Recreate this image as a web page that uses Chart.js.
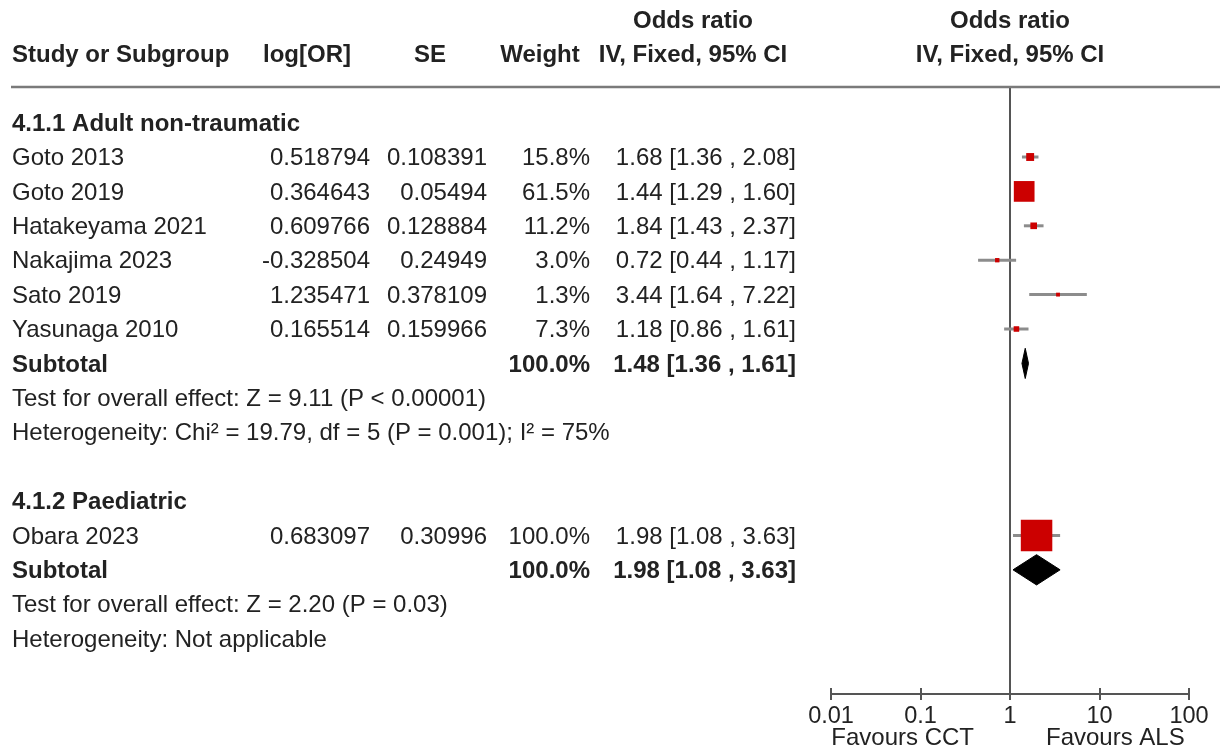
<!DOCTYPE html>
<html>
<head>
<meta charset="utf-8">
<title>Forest plot - ALS vs CCT</title>
<script src="https://cdn.jsdelivr.net/npm/chart.js@4.4.1/dist/chart.umd.min.js"></script>
<style>
    html, body { margin: 0; padding: 0; background: #fff; }
    canvas { display: block; }
</style>
</head>
<body>
<canvas id="forestChart" width="1220" height="753"></canvas>
<script>
// data
const groups = ["4.1.1 Adult non-traumatic", "4.1.2 Paediatric"];
const studies = ["Goto 2013", "Goto 2019", "Hatakeyama 2021", "Nakajima 2023", "Sato 2019", "Yasunaga 2010", "Obara 2023"];
const studyGroup = [0, 0, 0, 0, 0, 0, 1];
const logOR = [0.518794, 0.364643, 0.609766, -0.328504, 1.235471, 0.165514, 0.683097];
const stdErr = [0.108391, 0.05494, 0.128884, 0.24949, 0.378109, 0.159966, 0.30996];
const weight = [15.8, 61.5, 11.2, 3.0, 1.3, 7.3, 100.0];
const oddsRatio = [1.68, 1.44, 1.84, 0.72, 3.44, 1.18, 1.98];
const ciLower = [1.36, 1.29, 1.43, 0.44, 1.64, 0.86, 1.08];
const ciUpper = [2.08, 1.60, 2.37, 1.17, 7.22, 1.61, 3.63];

const subtotalWeight = [100.0, 100.0];
const subtotalOR = [1.48, 1.98];
const subtotalLower = [1.36, 1.08];
const subtotalUpper = [1.61, 3.63];
const overallTests = [
    "Test for overall effect: Z = 9.11 (P < 0.00001)",
    "Test for overall effect: Z = 2.20 (P = 0.03)"
];
const heterogeneity = [
    "Heterogeneity: Chi\u00b2 = 19.79, df = 5 (P = 0.001); I\u00b2 = 75%",
    "Heterogeneity: Not applicable"
];

const xTicks = [0.01, 0.1, 1, 10, 100];
const favoursLeft = "Favours CCT";
const favoursRight = "Favours ALS";

// row layout: heading, studies, subtotal, test, heterogeneity, blank
const rows = [];
let r = 0;
groups.forEach((g, gi) => {
    rows.push({kind: "heading", g: gi, row: r++});
    studies.forEach((s, i) => {
        if (studyGroup[i] === gi) rows.push({kind: "study", i: i, row: r++});
    });
    rows.push({kind: "subtotal", g: gi, row: r++});
    rows.push({kind: "test", g: gi, row: r++});
    rows.push({kind: "het", g: gi, row: r++});
    r++;
});
const studyRow = i => rows.find(o => o.kind === "study" && o.i === i).row;
const subtotalRow = g => rows.find(o => o.kind === "subtotal" && o.g === g).row;

const FONT = '"Liberation Sans", Arial, Helvetica, sans-serif';
const TEXT = "#222";
const DIAMOND_HALF = 0.44;

const datasets = [];

// squares
datasets.push({
    data: studies.map((s, i) => ({x: oddsRatio[i], y: studyRow(i)})),
    pointStyle: "rect",
    pointRadius: weight.map(w => (3.5 + 0.28 * w) / Math.SQRT2),
    backgroundColor: "#cc0000",
    borderWidth: 0,
    order: 0
});

// confidence intervals
studies.forEach((s, i) => {
    datasets.push({
        data: [{x: ciLower[i], y: studyRow(i)}, {x: ciUpper[i], y: studyRow(i)}],
        showLine: true,
        borderColor: "#8c8c8c",
        borderWidth: 3,
        pointRadius: 0,
        order: 1
    });
});

// subtotal diamonds
groups.forEach((g, gi) => {
    const y = subtotalRow(gi);
    datasets.push({
        data: [
            {x: subtotalLower[gi], y: y},
            {x: subtotalOR[gi], y: y - DIAMOND_HALF},
            {x: subtotalUpper[gi], y: y},
            {x: subtotalOR[gi], y: y + DIAMOND_HALF},
            {x: subtotalLower[gi], y: y}
        ],
        showLine: true,
        fill: "shape",
        backgroundColor: "#000",
        borderColor: "#000",
        borderWidth: 1,
        pointRadius: 0,
        order: 0
    });
});

// line of no effect
datasets.push({
    data: [{x: 1, y: -2}, {x: 1, y: r + 2}],
    showLine: true,
    borderColor: "#555",
    borderWidth: 2,
    pointRadius: 0,
    order: 2
});

const tablePlugin = {
    id: "forestTable",
    afterDraw(chart) {
        const ctx = chart.ctx;
        const ys = chart.scales.y;
        const xs = chart.scales.x;
        const area = chart.chartArea;
        const py = row => ys.getPixelForValue(row) + 1.5;

        ctx.save();
        ctx.textBaseline = "middle";
        ctx.fillStyle = TEXT;

        const put = (str, x, y, align, bold) => {
            ctx.font = (bold ? "bold " : "") + "24px " + FONT;
            ctx.textAlign = align;
            ctx.fillText(str, x, y);
        };

        // header
        put("Odds ratio", 693, py(-3), "center", true);
        put("Odds ratio", xs.getPixelForValue(1), py(-3), "center", true);
        put("Study or Subgroup", 12, py(-2), "left", true);
        put("log[OR]", 307, py(-2), "center", true);
        put("SE", 430, py(-2), "center", true);
        put("Weight", 540, py(-2), "center", true);
        put("IV, Fixed, 95% CI", 693, py(-2), "center", true);
        put("IV, Fixed, 95% CI", xs.getPixelForValue(1), py(-2), "center", true);

        ctx.strokeStyle = "#7a7a7a";
        ctx.lineWidth = 2.5;
        ctx.beginPath();
        ctx.moveTo(11, area.top);
        ctx.lineTo(chart.width, area.top);
        ctx.stroke();

        const ci = (o, l, u) => o.toFixed(2) + " [" + l.toFixed(2) + " , " + u.toFixed(2) + "]";

        rows.forEach(o => {
            const y = py(o.row);
            if (o.kind === "heading") {
                put(groups[o.g], 12, y, "left", true);
            } else if (o.kind === "study") {
                const i = o.i;
                put(studies[i], 12, y, "left", false);
                put(String(logOR[i]), 370, y, "right", false);
                put(String(stdErr[i]), 487, y, "right", false);
                put(weight[i].toFixed(1) + "%", 590, y, "right", false);
                put(ci(oddsRatio[i], ciLower[i], ciUpper[i]), 796, y, "right", false);
            } else if (o.kind === "subtotal") {
                put("Subtotal", 12, y, "left", true);
                put(subtotalWeight[o.g].toFixed(1) + "%", 590, y, "right", true);
                put(ci(subtotalOR[o.g], subtotalLower[o.g], subtotalUpper[o.g]), 796, y, "right", true);
            } else if (o.kind === "test") {
                put(overallTests[o.g], 12, y, "left", false);
            } else if (o.kind === "het") {
                put(heterogeneity[o.g], 12, y, "left", false);
            }
        });

        // upper half of the axis tick marks
        ctx.strokeStyle = "#555";
        ctx.lineWidth = 2;
        xTicks.forEach(v => {
            const x = Math.round(xs.getPixelForValue(v));
            ctx.beginPath();
            ctx.moveTo(x, area.bottom - 6);
            ctx.lineTo(x, area.bottom);
            ctx.stroke();
        });

        // favours labels
        const one = xs.getPixelForValue(1);
        put(favoursLeft, one - 36, 738, "right", false);
        put(favoursRight, one + 36, 738, "left", false);

        ctx.restore();
    }
};

new Chart(document.getElementById("forestChart").getContext("2d"), {
    type: "scatter",
    data: {datasets: datasets},
    options: {
        responsive: false,
        animation: false,
        events: [],
        devicePixelRatio: 1,
        layout: {
            padding: {left: 831, right: 31, top: 87, bottom: 0}
        },
        plugins: {
            legend: {display: false},
            tooltip: {enabled: false}
        },
        scales: {
            x: {
                type: "logarithmic",
                position: "bottom",
                min: 0.01,
                max: 100,
                afterBuildTicks: scale => {
                    scale.ticks = xTicks.map(v => ({value: v}));
                },
                afterFit: scale => {
                    scale.height = 59;
                },
                grid: {
                    drawOnChartArea: false,
                    drawTicks: true,
                    tickLength: 6,
                    color: "#555",
                    lineWidth: 2
                },
                border: {display: true, color: "#555", width: 2},
                ticks: {
                    autoSkip: false,
                    maxRotation: 0,
                    padding: 2,
                    color: TEXT,
                    font: {family: FONT, size: 23.5},
                    callback: v => String(v)
                }
            },
            y: {
                type: "linear",
                display: false,
                reverse: true,
                min: -1.035,
                max: 16.61
            }
        }
    },
    plugins: [tablePlugin]
});
</script>
</body>
</html>
